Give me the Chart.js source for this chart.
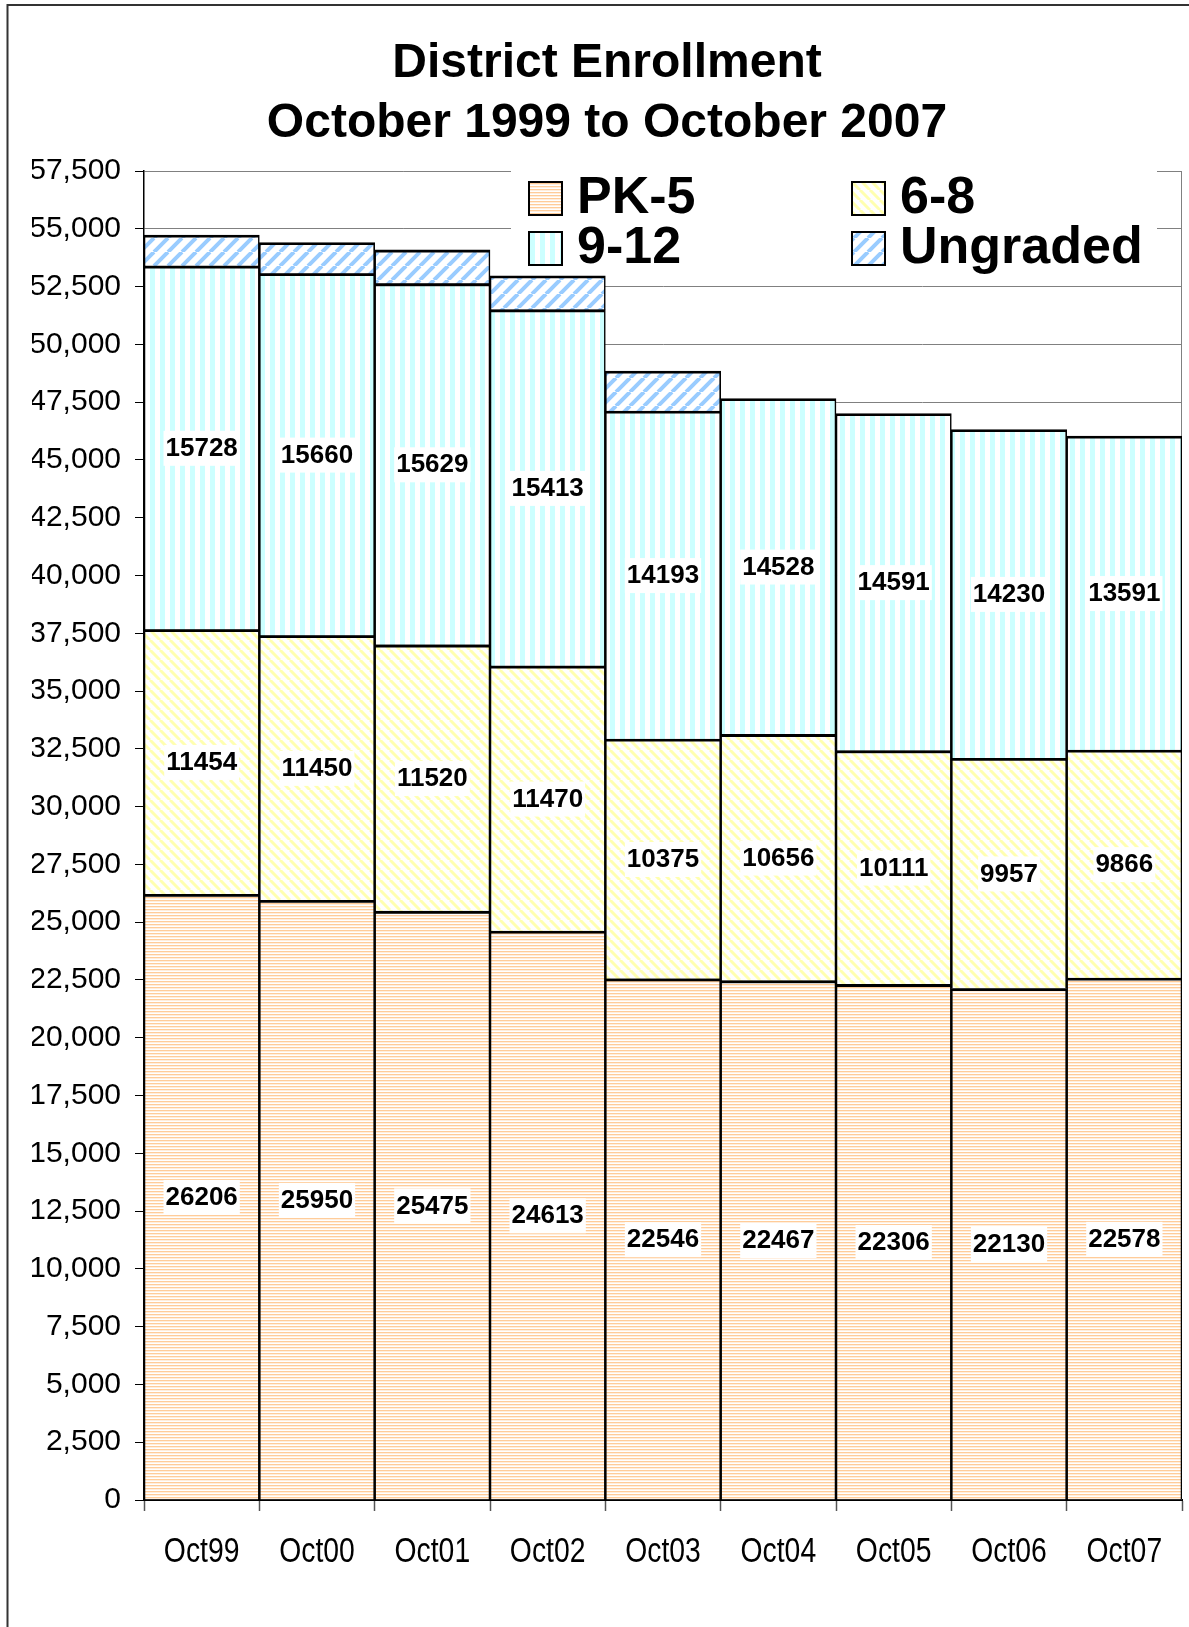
<!DOCTYPE html>
<html>
<head>
<meta charset="utf-8">
<script src="https://cdn.jsdelivr.net/npm/chart.js@4.4.1/dist/chart.umd.min.js"></script>
<style>
  html,body{margin:0;padding:0;background:#fff;}
  #wrap{width:1189px;height:1627px;position:relative;}
</style>
</head>
<body>
<div id="wrap"><canvas id="chart"></canvas></div>
<script>
/* DATA */
const labels = ["Oct99","Oct00","Oct01","Oct02","Oct03","Oct04","Oct05","Oct06","Oct07"];
const seriesNames = ["PK-5","6-8","9-12","Ungraded"];
const pk5      = [26206,25950,25475,24613,22546,22467,22306,22130,22578];
const gr68     = [11454,11450,11520,11470,10375,10656,10111,9957,9866];
const gr912    = [15728,15660,15629,15413,14193,14528,14591,14230,13591];
const ungraded = [1340,1340,1460,1470,1730,0,0,0,0];
const yMax = 57500, yStep = 2500;

const SANS = '"Liberation Sans", Arial, sans-serif';

/* PATTERNS */
function makePattern(kind){
  const c = document.createElement("canvas");
  const g = c.getContext("2d");
  if(kind==="horiz"){
    c.width=4; c.height=3;
    g.fillStyle="#fff"; g.fillRect(0,0,4,3);
    g.fillStyle="#FFCC99"; g.fillRect(0,0,4,1);
    g.fillStyle="#FFEEDD"; g.fillRect(0,1,4,1);
  } else if(kind==="vert"){
    c.width=10; c.height=10;
    g.fillStyle="#fff"; g.fillRect(0,0,10,10);
    g.fillStyle="#CCFFFF"; g.fillRect(0,0,5,10);
  } else if(kind==="back"){
    const s=10; c.width=s; c.height=s;
    g.fillStyle="#fff"; g.fillRect(0,0,s,s);
    g.strokeStyle="#FFFFB0"; g.lineWidth=3;
    g.beginPath();
    for(const k of [-s,0,s]){ g.moveTo(k,0); g.lineTo(k+s,s); }
    g.stroke();
  } else {
    const s=14; c.width=s; c.height=s;
    g.fillStyle="#fff"; g.fillRect(0,0,s,s);
    g.strokeStyle="#99CCFF"; g.lineWidth=4;
    g.beginPath();
    for(const k of [-s,0,s]){ g.moveTo(k,s); g.lineTo(k+s,0); }
    g.stroke();
  }
  return g.createPattern(c,"repeat");
}
const fills = [makePattern("horiz"), makePattern("back"), makePattern("vert"), makePattern("fwd")];

/* PLUGINS */
const frame = {
  id:"frame",
  beforeDraw(chart){
    const ctx = chart.ctx;
    ctx.save();
    ctx.strokeStyle="#333"; ctx.lineWidth=2;
    ctx.beginPath();
    ctx.moveTo(7.5, chart.height); ctx.lineTo(7.5, 5); ctx.lineTo(chart.width, 5);
    ctx.stroke();
    ctx.restore();
  },
  beforeDatasetsDraw(chart){
    const ctx = chart.ctx, a = chart.chartArea;
    ctx.save();
    // right border of plot
    ctx.strokeStyle="#808080"; ctx.lineWidth=1;
    ctx.beginPath(); ctx.moveTo(a.right-0.5, a.top); ctx.lineTo(a.right-0.5, a.bottom); ctx.stroke();
    // legend box background
    ctx.fillStyle="#fff";
    ctx.fillRect(511, a.top-3, 646, 108);
    ctx.restore();
  }
};

const legendBox = {
  id:"legendBox",
  afterDatasetsDraw(chart){
    const ctx = chart.ctx;
    const cols = [529, 852], rows = [198, 248];
    ctx.save();
    chart.data.datasets.forEach((ds,i)=>{
      const x = cols[i%2], y = rows[Math.floor(i/2)];
      ctx.fillStyle = ds.backgroundColor;
      ctx.fillRect(x, y-16, 33, 33);
      ctx.strokeStyle="#000"; ctx.lineWidth=2;
      ctx.strokeRect(x, y-16, 33, 33);
      ctx.fillStyle="#000";
      ctx.font = "bold 52px "+SANS;
      ctx.textBaseline="middle"; ctx.textAlign="left";
      ctx.fillText(ds.label, x+48, y+1);
    });
    ctx.restore();
  }
};

const valueLabels = {
  id:"valueLabels",
  afterDatasetsDraw(chart){
    const ctx = chart.ctx;
    ctx.save();
    ctx.font = "bold 26px "+SANS;
    ctx.textAlign="center"; ctx.textBaseline="middle";
    [0,1,2].forEach(di=>{
      const meta = chart.getDatasetMeta(di);
      meta.data.forEach((el,j)=>{
        const t = String(chart.data.datasets[di].data[j]);
        const cy = (el.y + el.base)/2;
        const w = ctx.measureText(t).width;
        ctx.fillStyle="#fff";
        ctx.fillRect(el.x - w/2 - 2, cy - 17, w + 4, 35);
        ctx.fillStyle="#000";
        ctx.fillText(t, el.x, cy+1);
      });
    });
    ctx.restore();
  }
};

// category labels in a condensed face (narrow sans is not installed)
const xLabels = {
  id:"xLabels",
  afterDraw(chart){
    const ctx = chart.ctx, xs = chart.scales.x;
    const y = chart.chartArea.bottom + 62;
    ctx.save();
    ctx.font = "35px "+SANS;
    ctx.fillStyle="#000"; ctx.textAlign="center"; ctx.textBaseline="alphabetic";
    chart.data.labels.forEach((t,i)=>{
      ctx.save();
      ctx.translate(xs.getPixelForTick(i), y);
      ctx.scale(0.81,1);
      ctx.fillText(t,0,0);
      ctx.restore();
    });
    ctx.restore();
  }
};

/* CHART */
const border = {top:2.8, bottom:0.5, left:1.6, right:1.6};
new Chart(document.getElementById("chart"), {
  type:"bar",
  data:{
    labels:labels,
    datasets:[
      {label:seriesNames[0], data:pk5, backgroundColor:fills[0]},
      {label:seriesNames[1], data:gr68, backgroundColor:fills[1]},
      {label:seriesNames[2], data:gr912, backgroundColor:fills[2]},
      {label:seriesNames[3], data:ungraded, backgroundColor:fills[3]}
    ].map(d=>Object.assign(d,{borderColor:"#000", borderWidth:border, borderSkipped:false, barPercentage:1, categoryPercentage:1}))
  },
  options:{
    responsive:true, maintainAspectRatio:false, animation:false,
    layout:{padding:{left:32, right:7, top:10, bottom:116}},
    plugins:{
      legend:{display:false},
      tooltip:{enabled:false},
      title:{
        display:true,
        text:["District Enrollment","October 1999 to October 2007"],
        color:"#000",
        font:{family:SANS, size:48, weight:"bold", lineHeight:1.25},
        padding:{top:24, bottom:17}
      }
    },
    scales:{
      x:{
        stacked:true,
        grid:{display:true, offset:true, drawOnChartArea:false, tickLength:11, tickColor:"#555", tickWidth:1.5},
        border:{color:"#000", width:2},
        ticks:{display:false}
      },
      y:{
        stacked:true, min:0, max:yMax,
        afterFit:s=>{ s.width = 112; },
        grid:{color:"#808080", lineWidth:1, tickLength:9, tickColor:"#000"},
        border:{color:"#000", width:1.5},
        ticks:{stepSize:yStep, color:"#000", padding:14, font:{family:SANS, size:30},
          callback:v=>v.toLocaleString("en-US")}
      }
    }
  },
  plugins:[frame, valueLabels, legendBox, xLabels]
});
</script>
</body>
</html>
